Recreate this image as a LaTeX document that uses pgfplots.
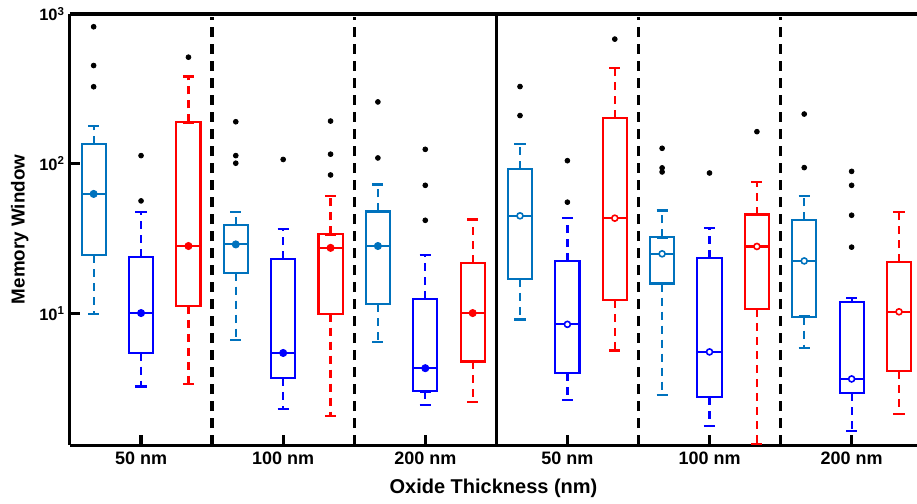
\documentclass[border=0pt]{standalone}
\usepackage{pgfplots}
\pgfplotsset{compat=1.18}
\usepgfplotslibrary{statistics}
\usepackage{fontspec}
\setmainfont{Liberation Sans}
\definecolor{c1}{RGB}{0,114,189}
\definecolor{c2}{RGB}{0,0,255}
\definecolor{c3}{RGB}{255,0,0}
\pgfplotsset{
  boxplot/draw/whisker/.code 2 args={
    \draw[line width=1.1pt, dash pattern=on 4pt off 3pt]
      (boxplot box cs:#1,0.5) -- (boxplot box cs:#2,0.5);
    \draw[line width=1.1pt, solid]
      (boxplot box cs:#1,0.27) -- (boxplot box cs:#1,0.73)
      (boxplot box cs:#2,0.27) -- (boxplot box cs:#2,0.73);
  },
  bx/.style={line width=1.05pt, boxplot/draw direction=y, boxplot/box extend=0.34},
}
\newcommand{\bp}[7]{\addplot[#1, bx, boxplot prepared={draw position=#2, lower whisker=#3, lower quartile=#4, median=#5, upper quartile=#6, upper whisker=#7}] coordinates {};}
\begin{document}
\begin{tikzpicture}
\begin{axis}[
  name=ax,
  scale only axis, width=423.5pt, height=215.5pt,
  xmin=0, xmax=11.92,
  ymode=log, ymin=1.33, ymax=1000,
  axis lines*=left,
  axis line style={line width=1.5pt},
  major tick style={black, line width=1.6pt},
  major tick length=5pt,
  tick align=inside,
  yminorticks=false,
  ytick={10,100,1000},
  yticklabels={10\textsuperscript{1},10\textsuperscript{2},10\textsuperscript{3}},
  yticklabel style={font=\fontsize{8.2}{9}\selectfont\bfseries, xshift=1pt},
  xtick={1,2,3,4,5,6,7,8,9,10,11},
  xticklabels={50 nm,,100 nm,,200 nm,,50 nm,,100 nm,,200 nm},
  xticklabel style={font=\fontsize{9}{10}\selectfont\bfseries},
  xlabel={Oxide Thickness (nm)},
  ylabel={Memory Window},
  xlabel style={font=\fontsize{10}{11}\selectfont\bfseries},
  ylabel style={font=\fontsize{9.4}{11}\selectfont\bfseries, yshift=-1.5pt},
  clip=false,
]
% top line
\draw[line width=1.5pt] (rel axis cs:0,1) -- (rel axis cs:1,1);
% separators
\addplot[black, line width=1.7pt, dash pattern=on 5pt off 3.5pt] coordinates {(2,1.33) (2,960)};
\addplot[black, line width=1.7pt, dash pattern=on 5pt off 3.5pt] coordinates {(4,1.33) (4,960)};
\addplot[black, line width=1.7pt, dash pattern=on 5pt off 3.5pt] coordinates {(8,1.33) (8,960)};
\addplot[black, line width=1.7pt, dash pattern=on 5pt off 3.5pt] coordinates {(10,1.33) (10,960)};
\addplot[black, line width=1.2pt] coordinates {(6,1.33) (6,1000)};
% boxes: color, pos, lw, q1, med, q3, uw
\bp{c1}{0.333}{10}{24.6}{63}{135}{179}
\bp{c2}{1}{3.27}{5.5}{10.1}{24.0}{47.5}
\bp{c3}{1.667}{3.39}{11.3}{28.3}{189}{383}
\bp{c1}{2.333}{6.65}{18.8}{29}{39.2}{47.9}
\bp{c2}{3}{2.32}{3.73}{5.47}{23.1}{36.9}
\bp{c3}{3.667}{2.07}{10}{27.5}{33.8}{61.4}
\bp{c1}{4.333}{6.5}{11.6}{28.3}{48.1}{72.8}
\bp{c2}{5}{2.45}{3.03}{4.33}{12.6}{24.5}
\bp{c3}{5.667}{2.57}{4.8}{10.1}{21.8}{42.5}
\bp{c1}{6.333}{9.14}{17.1}{45}{92.9}{136}
\bp{c2}{7}{2.66}{4.01}{8.49}{22.4}{43.6}
\bp{c3}{7.667}{5.68}{12.3}{43.4}{202}{435}
\bp{c1}{8.333}{2.86}{15.9}{25.1}{32.3}{48.8}
\bp{c2}{9}{1.79}{2.77}{5.56}{23.6}{37.2}
\bp{c3}{9.667}{1.35}{10.7}{28.1}{45.9}{75.7}
\bp{c1}{10.333}{5.89}{9.57}{22.5}{42}{60.8}
\bp{c2}{11}{1.64}{2.94}{3.67}{11.9}{12.8}
\bp{c3}{11.667}{2.14}{4.16}{10.3}{22.1}{47.9}
% median markers
\addplot[only marks, mark=*, mark size=1.8pt, c1] coordinates {(0.333,63) (2.333,29) (4.333,28.3)};
\addplot[only marks, mark=*, mark size=1.8pt, c2] coordinates {(1,10.1) (3,5.47) (5,4.33)};
\addplot[only marks, mark=*, mark size=1.8pt, c3] coordinates {(1.667,28.3) (3.667,27.5) (5.667,10.1)};
\addplot[only marks, mark=*, mark size=1.5pt, c1, mark options={fill=white, line width=0.8pt}] coordinates {(6.333,45) (8.333,25.1) (10.333,22.5)};
\addplot[only marks, mark=*, mark size=1.5pt, c2, mark options={fill=white, line width=0.8pt}] coordinates {(7,8.49) (9,5.56) (11,3.67)};
\addplot[only marks, mark=*, mark size=1.5pt, c3, mark options={fill=white, line width=0.8pt}] coordinates {(7.667,43.4) (9.667,28.1) (11.667,10.3)};
% outliers
\addplot[only marks, mark=*, mark size=1.2pt, black] coordinates {
 (0.333,822) (0.333,453) (0.333,327)
 (1,113.5) (1,56.6)
 (1.667,515)
 (2.333,191) (2.333,113.5) (2.333,101)
 (3,107)
 (3.667,193) (3.667,116) (3.667,84.3)
 (4.333,259) (4.333,109.5)
 (5,125) (5,71.9) (5,42)
 (6.333,328) (6.333,210)
 (7,105) (7,55.5)
 (7.667,680)
 (8.333,127) (8.333,94) (8.333,88.3)
 (9,86.9)
 (9.667,164)
 (10.333,215) (10.333,94.4)
 (11,89.1) (11,71.9) (11,45.4) (11,27.8)
};
\end{axis}
\pgfresetboundingbox
\path ([xshift=-35pt,yshift=-29.5pt]ax.south west) rectangle ([yshift=7pt]ax.north east);
\end{tikzpicture}
\end{document}
